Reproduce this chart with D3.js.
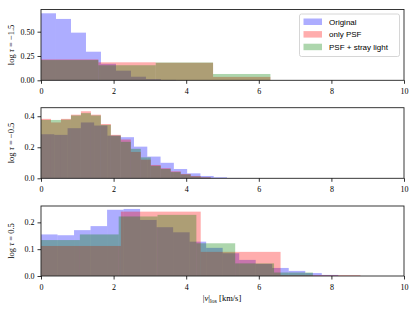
<!DOCTYPE html>
<html>
<head>
<meta charset="utf-8">
<script src="https://cdn.jsdelivr.net/npm/d3@7"></script>
<style>
  body { margin: 0; background: #fff; }
  svg { display: block; }
  .tick text { font-family: "Liberation Serif", serif; font-size: 8px; fill: #000; }
  .tick line { stroke: #000; stroke-width: 0.8; }
</style>
</head>
<body>
<div id="container"></div>
<script>
// histogram heights (density); each series has its own bin width
const seriesNames = ['Original', 'only PSF', 'PSF + stray light'];
const seriesColors = ['#0000ff', '#ff0000', '#008000'];

// log tau = -1.5
const p1BinW = [0.413, 1.58, 1.58];
const p1Blue = [0.689, 0.631, 0.49, 0.294, 0.17, 0.099, 0.037, 0.013, 0.004];
const p1Red = [0.215, 0.185, 0.18, 0.035];
const p1Green = [0.208, 0.155, 0.183, 0.065];
const p1Ticks = [0, 0.25, 0.5];

// log tau = -0.5
const p2BinW = [0.366, 0.275, 0.275];
const p2Blue = [0.284, 0.28, 0.323, 0.36, 0.34, 0.275, 0.265, 0.204, 0.14, 0.10, 0.06, 0.032, 0.015, 0.0065, 0.002];
const p2Red = [0.383, 0.36, 0.383, 0.41, 0.432, 0.41, 0.35, 0.28, 0.25, 0.17, 0.12, 0.086, 0.065, 0.045, 0.028, 0.015, 0.007];
const p2Green = [0.376, 0.376, 0.378, 0.405, 0.42, 0.405, 0.344, 0.275, 0.235, 0.19, 0.135, 0.08, 0.06, 0.04, 0.025, 0.012, 0.005];
const p2Ticks = [0, 0.2, 0.4];

// log tau = 0.5
const p3BinW = [0.455, 2.2, 1.07];
const p3Blue = [0.155, 0.152, 0.171, 0.186, 0.247, 0.25, 0.209, 0.182, 0.163, 0.128, 0.105, 0.085, 0.06, 0.045, 0.03, 0.019, 0.011, 0.004];
const p3Red = [0.112, 0.24, 0.09, 0.003];
const p3Green = [0.134, 0.155, 0.222, 0.228, 0.122, 0.047, 0.013];
const p3Ticks = [0, 0.1, 0.2];

const xTicks = [0, 2, 4, 6, 8, 10];

const panels = [
    { top: 9.5, bottom: 80.3, ymax: 0.728, binW: p1BinW, data: [p1Blue, p1Red, p1Green], ticks: p1Ticks, fmt: '.2f', tau: '−1.5' },
    { top: 107.7, bottom: 178.3, ymax: 0.455, binW: p2BinW, data: [p2Blue, p2Red, p2Green], ticks: p2Ticks, fmt: '.1f', tau: '−0.5' },
    { top: 206, bottom: 276, ymax: 0.261, binW: p3BinW, data: [p3Blue, p3Red, p3Green], ticks: p3Ticks, fmt: '.1f', tau: '0.5' }
];

const svg = d3.select('#container')
    .append('svg')
    .attr('width', 415)
    .attr('height', 311);

const x = d3.scaleLinear().domain([0, 10]).range([41, 404]);

panels.forEach(p => {
    const y = d3.scaleLinear().domain([0, p.ymax]).range([p.bottom, p.top]);
    const g = svg.append('g');

    p.data.forEach((vals, s) => {
        const w = p.binW[s];
        g.append('g')
            .selectAll('rect')
            .data(vals)
            .enter()
            .append('rect')
            .attr('x', (d, i) => x(i * w))
            .attr('width', (d, i) => x((i + 1) * w) - x(i * w))
            .attr('y', d => y(d))
            .attr('height', d => y(0) - y(d))
            .attr('fill', seriesColors[s])
            .attr('fill-opacity', 0.32);
    });

    // frame
    g.append('rect')
        .attr('x', x(0)).attr('y', p.top)
        .attr('width', x(10) - x(0)).attr('height', p.bottom - p.top)
        .attr('fill', 'none').attr('stroke', '#222').attr('stroke-width', 0.9);

    g.append('g')
        .attr('transform', `translate(0,${p.bottom})`)
        .call(d3.axisBottom(x).tickValues(xTicks).tickFormat(d3.format('d')).tickSize(3.5).tickSizeOuter(0))
        .call(a => a.select('.domain').remove())
        .selectAll('text').attr('dy', '0.95em');

    g.append('g')
        .attr('transform', `translate(${x(0)},0)`)
        .call(d3.axisLeft(y).tickValues(p.ticks).tickFormat(d3.format(p.fmt)).tickSize(3.5).tickSizeOuter(0))
        .call(a => a.select('.domain').remove());

    const lab = svg.append('text')
        .attr('transform', `translate(13.5,${(p.top + p.bottom) / 2}) rotate(-90)`)
        .attr('text-anchor', 'middle')
        .style('font-family', '"Liberation Serif", serif')
        .style('font-size', '8.5px');
    lab.append('tspan').text('log ');
    lab.append('tspan').style('font-style', 'italic').text('τ');
    lab.append('tspan').text(' = ' + p.tau);
});

// x axis label
const xl = svg.append('text')
    .attr('x', 222).attr('y', 301)
    .attr('text-anchor', 'middle')
    .style('font-family', '"Liberation Serif", serif')
    .style('font-size', '8.5px');
xl.append('tspan').text('|');
xl.append('tspan').style('font-style', 'italic').text('v');
xl.append('tspan').text('|');
xl.append('tspan').attr('dy', 2).style('font-size', '6px').text('los');
xl.append('tspan').attr('dy', -2).text(' [km/s]');

// legend
const leg = svg.append('g');
leg.append('rect')
    .attr('x', 299.5).attr('y', 14).attr('width', 100).attr('height', 42.5)
    .attr('rx', 2).attr('fill', '#fff').attr('fill-opacity', 0.8)
    .attr('stroke', '#cccccc').attr('stroke-width', 0.8);
seriesNames.forEach((name, i) => {
    const cy = 22 + i * 12.6;
    leg.append('rect')
        .attr('x', 303.5).attr('y', cy - 3.5).attr('width', 18.5).attr('height', 6.5)
        .attr('fill', seriesColors[i]).attr('fill-opacity', 0.32);
    leg.append('text')
        .attr('x', 329).attr('y', cy + 2.8)
        .style('font-family', '"Liberation Sans", Arial, sans-serif')
        .style('font-size', '8px')
        .text(name);
});
</script>
</body>
</html>
